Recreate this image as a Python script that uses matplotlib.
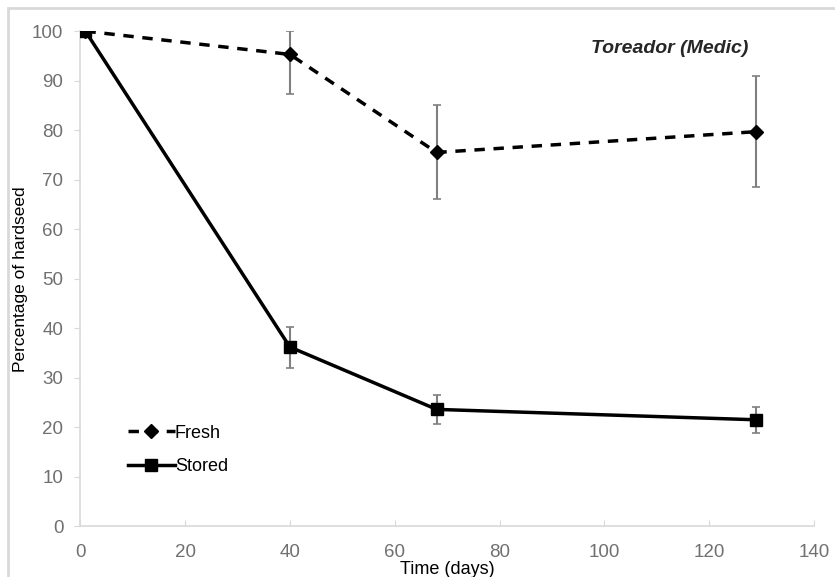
import matplotlib
matplotlib.use("Agg")
import matplotlib.pyplot as plt
from matplotlib.patches import Rectangle

plt.rcParams['font.family'] = ['Liberation Sans', 'DejaVu Sans']

days = [1, 40, 68, 129]
fresh = [100, 95.3, 75.5, 79.7]
fresh_err_low = [0, 8.0, 9.5, 11.2]
fresh_err_high = [0, 4.7, 9.5, 11.2]
stored = [100, 36.2, 23.6, 21.5]
stored_err_low = [0, 4.3, 3.0, 2.6]
stored_err_high = [0, 4.1, 2.9, 2.5]
xticks = [0, 20, 40, 60, 80, 100, 120, 140]
yticks = [0, 10, 20, 30, 40, 50, 60, 70, 80, 90, 100]

fig = plt.figure(figsize=(8.35, 5.77), dpi=100)
ax = fig.add_axes([0.096, 0.088, 0.879, 0.858])

ax.errorbar(days, fresh, yerr=[fresh_err_low, fresh_err_high], fmt='none',
            ecolor='#808080', elinewidth=1.5, capsize=3, capthick=1.2, zorder=2)
ax.errorbar(days, stored, yerr=[stored_err_low, stored_err_high], fmt='none',
            ecolor='#808080', elinewidth=1.5, capsize=3, capthick=1.2, zorder=2)
ax.plot(days, fresh, color='black', linestyle=(0, (3, 2.5)), linewidth=2.5,
        marker='D', markersize=7, label='Fresh', zorder=3)
ax.plot(days, stored, color='black', linestyle='-', linewidth=2.5,
        marker='s', markersize=8, label='Stored', zorder=3)

ax.set_xlim(0, 140)
ax.set_ylim(0, 100)
ax.set_xticks(xticks)
ax.set_yticks(yticks)
for s in ['top', 'right']:
    ax.spines[s].set_visible(False)
for s in ['left', 'bottom']:
    ax.spines[s].set_color('#d9d9d9')
    ax.spines[s].set_linewidth(1.2)
ax.tick_params(axis='both', colors='#d9d9d9', labelcolor='#707070', labelsize=13.5, length=4)
ax.tick_params(axis='y', pad=8)
ax.tick_params(axis='x', direction='in', pad=13)

ax.set_xlabel('Time (days)', fontsize=13, labelpad=0)
ax.set_ylabel('Percentage of hardseed', fontsize=12.5)
ax.yaxis.set_label_coords(-0.071, 0.5)

ax.text(0.911, 0.965, 'Toreador (Medic)', transform=ax.transAxes, ha='right', va='center',
        fontsize=14, fontweight='bold', fontstyle='italic', color='#262626')

leg = ax.legend(loc='lower left', bbox_to_anchor=(0.043, 0.071), frameon=False,
                fontsize=13, handlelength=2.6, handletextpad=0.0, labelspacing=0.9)

fig.patches.append(Rectangle((8/835, -0.01), 1.0, 1 - 8/577 + 0.01, transform=fig.transFigure,
                             fill=False, edgecolor='#d9d9d9', linewidth=2))

fig.savefig('out.png', dpi=100)
